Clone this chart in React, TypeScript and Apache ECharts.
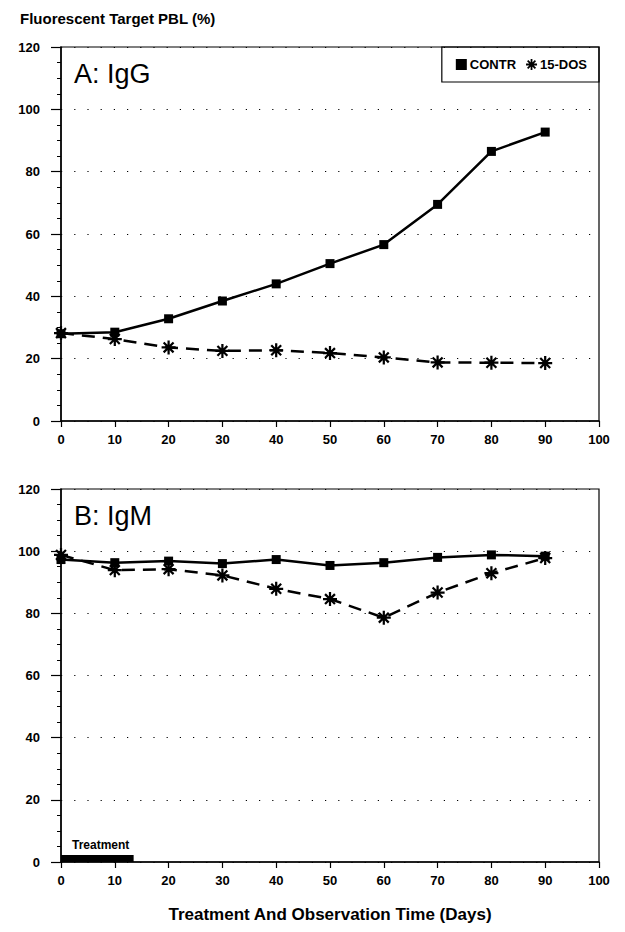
import React, { useEffect, useRef } from "react";
import * as echarts from "echarts";

// ---- Data ----
const days = [0, 10, 20, 30, 40, 50, 60, 70, 80, 90];
const iggContr = [28, 28.5, 32.8, 38.5, 44, 50.5, 56.6, 69.5, 86.5, 92.7];
const iggDos = [28.2, 26.3, 23.6, 22.5, 22.7, 21.8, 20.4, 18.8, 18.7, 18.6];
const igmContr = [97.3, 96.3, 96.8, 96.0, 97.3, 95.4, 96.3, 98.0, 98.8, 98.4];
const igmDos = [98.8, 93.9, 94.2, 92.2, 87.9, 84.6, 78.6, 86.7, 92.9, 97.8];
const treatmentDays = [0, 13.5];
const treatmentLevel = 1.1;
const xTicks = { min: 0, max: 100, interval: 10 };
const yTicks = { min: 0, max: 120, interval: 20 };

const FONT = "'Liberation Sans', Arial, Helvetica, sans-serif";

const ASTERISK =
  "path://M-0.8,-5L0.8,-5L0.8,5L-0.8,5Z M-5,-0.8L5,-0.8L5,0.8L-5,0.8Z M-2.97,-4.1L4.1,2.97L2.97,4.1L-4.1,-2.97Z M-4.1,2.97L2.97,-4.1L4.1,-2.97L-2.97,4.1Z";

function pairs(xs: number[], ys: number[]) {
  return xs.map((x, i) => [x, ys[i]]);
}

export default function App() {
  const ref = useRef<HTMLDivElement>(null);

  useEffect(() => {
    if (!ref.current) return;
    const chart = echarts.init(ref.current, undefined, { renderer: "svg" });

    const xAxisBase = (gridIndex: number) => ({
      type: "value",
      gridIndex,
      min: xTicks.min,
      max: xTicks.max,
      interval: xTicks.interval,
      axisLine: { show: true, lineStyle: { color: "#000", width: 1.5 } },
      axisTick: { show: true, inside: false, length: 6, lineStyle: { color: "#000", width: 1.2 } },
      axisLabel: { color: "#000", fontFamily: FONT, fontSize: 13, fontWeight: "bold", margin: 12 },
      splitLine: { show: false },
    });
    const yAxisBase = (gridIndex: number) => ({
      type: "value",
      gridIndex,
      min: yTicks.min,
      max: yTicks.max,
      interval: yTicks.interval,
      axisLine: { show: true, lineStyle: { color: "#000", width: 1.5 } },
      axisTick: { show: true, inside: false, length: 10, lineStyle: { color: "#000", width: 1.2 } },
      minorTick: { show: true, splitNumber: 4, length: 4, lineStyle: { color: "#000", width: 1 } },
      axisLabel: { color: "#000", fontFamily: FONT, fontSize: 13, fontWeight: "bold", margin: 21 },
      splitLine: { show: true, lineStyle: { color: "#000", width: 1.2, type: [1.2, 12] } },
    });

    const lineSeries = (name: string, xi: number, data: number[], dashed: boolean) => ({
      name,
      type: "line",
      xAxisIndex: xi,
      yAxisIndex: xi,
      data: pairs(days, data),
      symbol: dashed ? ASTERISK : "rect",
      symbolSize: dashed ? 14 : 9,
      itemStyle: { color: "#000" },
      lineStyle: { color: "#000", width: 2.5, type: dashed ? [13, 8] : "solid" },
      z: dashed ? 3 : 4,
    });

    chart.setOption({
      animation: false,
      backgroundColor: "#fff",
      title: [
        {
          text: "Fluorescent Target PBL (%)",
          left: 20,
          top: 11,
          padding: 0,
          textStyle: { fontFamily: FONT, fontSize: 15, fontWeight: "bold", color: "#000" },
        },
        {
          text: "A: IgG",
          left: 74,
          top: 60,
          padding: 0,
          textStyle: { fontFamily: FONT, fontSize: 27, fontWeight: "normal", color: "#000" },
        },
        {
          text: "B: IgM",
          left: 74,
          top: 502,
          padding: 0,
          textStyle: { fontFamily: FONT, fontSize: 27, fontWeight: "normal", color: "#000" },
        },
      ],
      legend: {
        right: 26,
        top: 47,
        orient: "horizontal",
        borderColor: "#000",
        borderWidth: 1.2,
        padding: [11, 12, 11, 14],
        itemGap: 10,
        itemWidth: 11,
        itemHeight: 11,
        itemStyle: { color: "#000" },
        textStyle: { fontFamily: FONT, fontSize: 13, fontWeight: "bold", color: "#000", padding: [0, 0, 0, -2] },
        data: [
          { name: "CONTR", icon: "rect" },
          { name: "15-DOS", icon: ASTERISK },
        ],
      },
      grid: [
        { left: 61, width: 538, top: 47, height: 374, show: true, borderColor: "#000", borderWidth: 1.2, backgroundColor: "transparent" },
        { left: 61, width: 538, top: 489, height: 373, show: true, borderColor: "#000", borderWidth: 1.2, backgroundColor: "transparent" },
      ],
      xAxis: [
        xAxisBase(0),
        {
          ...xAxisBase(1),
          name: "Treatment And Observation Time (Days)",
          nameLocation: "middle",
          nameGap: 44,
          nameTextStyle: { fontFamily: FONT, fontSize: 17, fontWeight: "bold", color: "#000" },
        },
      ],
      yAxis: [yAxisBase(0), yAxisBase(1)],
      series: [
        lineSeries("CONTR", 0, iggContr, false),
        lineSeries("15-DOS", 0, iggDos, true),
        lineSeries("CONTR", 1, igmContr, false),
        lineSeries("15-DOS", 1, igmDos, true),
        {
          name: "Treatment",
          type: "line",
          xAxisIndex: 1,
          yAxisIndex: 1,
          symbol: "rect",
          symbolSize: 0.1,
          showSymbol: true,
          clip: false,
          itemStyle: { color: "#000" },
          lineStyle: { color: "#000", width: 7, cap: "butt" },
          data: treatmentDays.map((d, i) =>
            i === 0
              ? {
                  value: [d, treatmentLevel],
                  label: {
                    show: true,
                    formatter: "Treatment",
                    position: "top",
                    align: "left",
                    distance: 8,
                    offset: [11, 0],
                    fontFamily: FONT,
                    fontSize: 12,
                    fontWeight: "bold",
                    color: "#000",
                  },
                }
              : { value: [d, treatmentLevel] }
          ),
          z: 5,
        },
      ],
    });

    return () => chart.dispose();
  }, []);

  return <div ref={ref} style={{ width: 625, height: 932, position: "absolute", left: 0, top: 0 }} />;
}
